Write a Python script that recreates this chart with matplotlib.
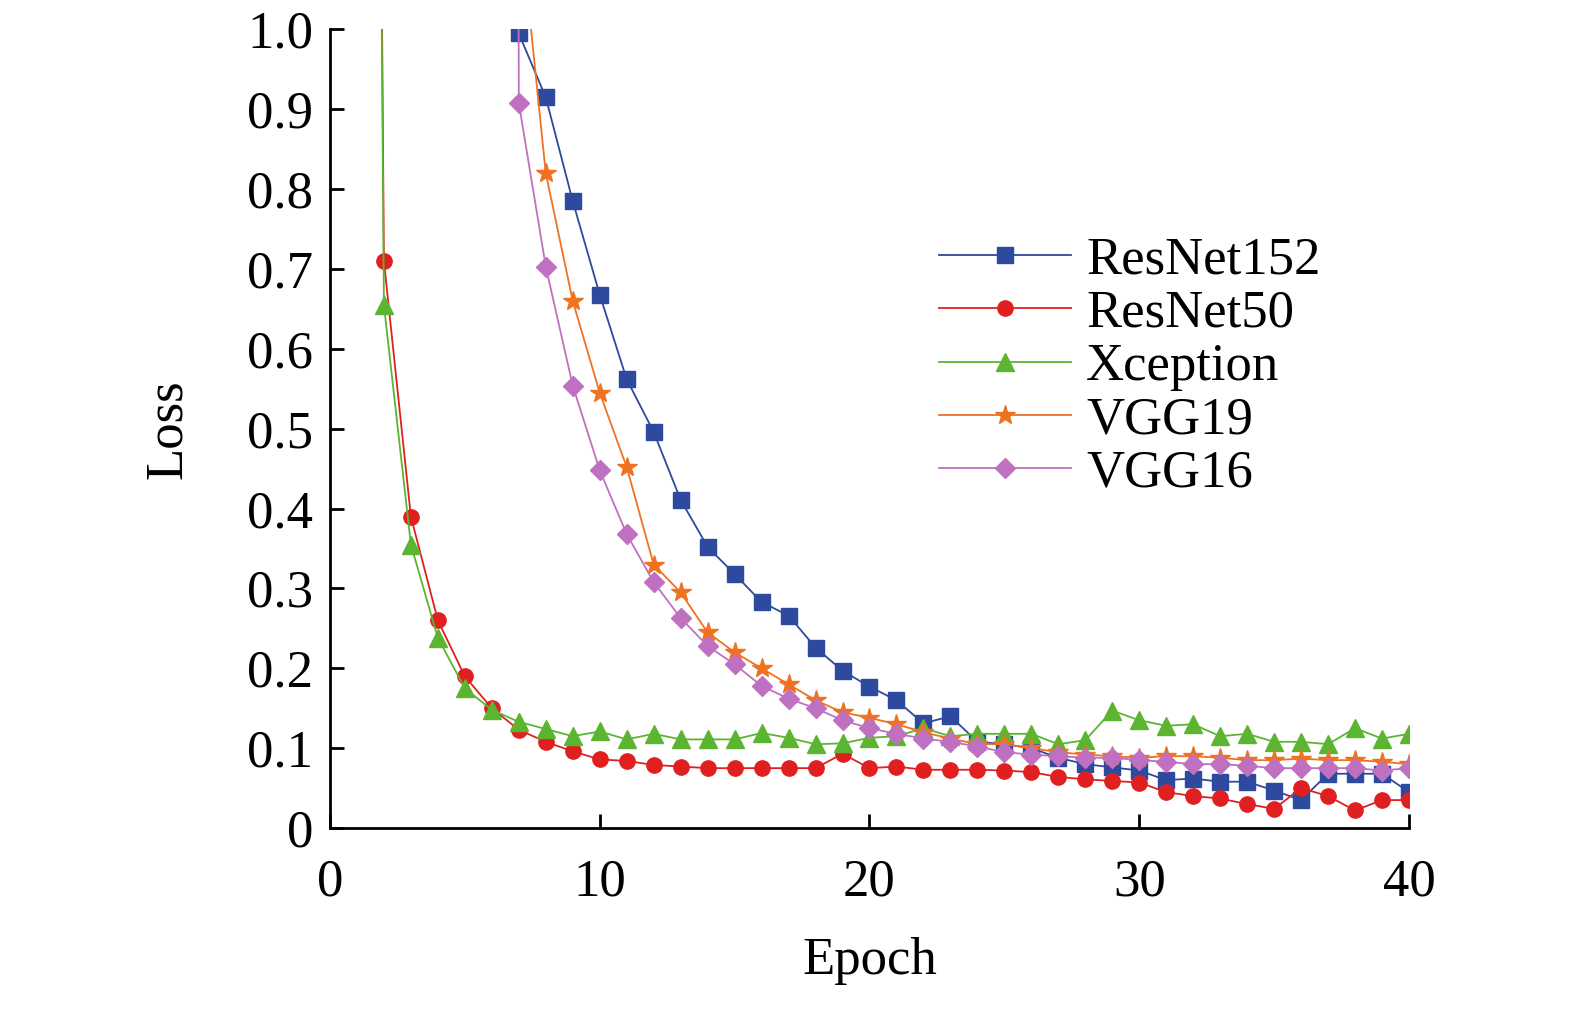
import matplotlib
matplotlib.use('Agg')
import matplotlib.pyplot as plt
import numpy as np
from matplotlib.ticker import FuncFormatter

plt.rcParams['font.family'] = ['Liberation Serif', 'DejaVu Serif']

# epochs 6..40 (first value above the visible range)
resnet152_epochs = list(range(6, 41))
resnet152 = [5.0, 0.995, 0.915, 0.785, 0.668, 0.562, 0.496, 0.411, 0.352, 0.318, 0.283,
             0.266, 0.226, 0.197, 0.177, 0.160, 0.131, 0.140, 0.108, 0.105, 0.100,
             0.088, 0.080, 0.076, 0.072, 0.060, 0.062, 0.058, 0.058, 0.047, 0.035,
             0.068, 0.068, 0.068, 0.045]

# epochs 1..40
resnet50_epochs = list(range(1, 41))
resnet50 = [5.0, 0.71, 0.39, 0.26, 0.19, 0.15, 0.123, 0.108, 0.096, 0.086, 0.084, 0.079,
            0.077, 0.075, 0.075, 0.075, 0.075, 0.075, 0.093, 0.075, 0.077, 0.073,
            0.073, 0.073, 0.072, 0.070, 0.064, 0.061, 0.059, 0.057, 0.045, 0.040,
            0.037, 0.030, 0.024, 0.050, 0.040, 0.022, 0.035, 0.035]

xception_epochs = list(range(1, 41))
xception = [5.0, 0.655, 0.355, 0.238, 0.175, 0.148, 0.133, 0.124, 0.115, 0.121, 0.111,
            0.118, 0.111, 0.111, 0.111, 0.119, 0.113, 0.105, 0.106, 0.113, 0.115,
            0.125, 0.115, 0.118, 0.118, 0.118, 0.105, 0.110, 0.147, 0.135, 0.128,
            0.130, 0.115, 0.118, 0.108, 0.108, 0.105, 0.125, 0.112, 0.118]

vgg19_epochs = list(range(6, 41))
vgg19 = [5.0, 1.15, 0.82, 0.66, 0.545, 0.452, 0.330, 0.295, 0.245, 0.220, 0.200, 0.180,
         0.160, 0.145, 0.138, 0.130, 0.120, 0.112, 0.105, 0.105, 0.100, 0.095,
         0.092, 0.090, 0.088, 0.090, 0.090, 0.088, 0.085, 0.085, 0.087, 0.085,
         0.085, 0.083, 0.080]

vgg16_epochs = list(range(6, 41))
vgg16 = [20.0, 0.908, 0.703, 0.554, 0.448, 0.368, 0.308, 0.263, 0.228, 0.205, 0.178,
         0.162, 0.150, 0.135, 0.125, 0.118, 0.112, 0.108, 0.102, 0.095, 0.092,
         0.090, 0.088, 0.088, 0.085, 0.083, 0.080, 0.080, 0.078, 0.075, 0.075,
         0.075, 0.075, 0.072, 0.075]

series = [
    ('ResNet152', resnet152_epochs, resnet152, '#2e4a9e', 's', 11),
    ('ResNet50', resnet50_epochs, resnet50, '#e02020', 'o', 11),
    ('Xception', xception_epochs, xception, '#5cb531', '^', 13),
    ('VGG19', vgg19_epochs, vgg19, '#ee7222', '*', 15),
    ('VGG16', vgg16_epochs, vgg16, '#c070c0', 'D', 10),
]

fig = plt.figure(figsize=(15.75, 10.16), dpi=100)
ax = fig.add_axes([0.2095, 0.185, 0.6851, 0.786])

for name, x, y, color, marker, ms in series:
    ax.plot(x, y, color=color, marker=marker, markersize=ms, linewidth=1.3,
            label=name, clip_on=True)

ax.set_xlim(0, 40)
ax.set_ylim(0, 1.0)
ax.set_xticks([0, 10, 20, 30, 40])
ax.set_yticks(np.arange(0, 1.01, 0.1))
ax.yaxis.set_major_formatter(FuncFormatter(lambda v, p: '0' if v == 0 else f'{v:.1f}'))
for s in ['top', 'right']:
    ax.spines[s].set_visible(False)
for s in ['left', 'bottom']:
    ax.spines[s].set_linewidth(2)
ax.tick_params(direction='in', length=10, width=2, labelsize=38, pad=12)
ax.tick_params(axis='x', pad=22)

ax.set_xlabel('Epoch', fontsize=38, labelpad=22)
ax.set_ylabel('Loss', fontsize=38, labelpad=40)

ax.legend(loc='upper left', bbox_to_anchor=(0.52, 0.8), frameon=False,
          fontsize=38, handlelength=2.5, labelspacing=0.1, handletextpad=0.3)

fig.savefig('out.png', dpi=100)
